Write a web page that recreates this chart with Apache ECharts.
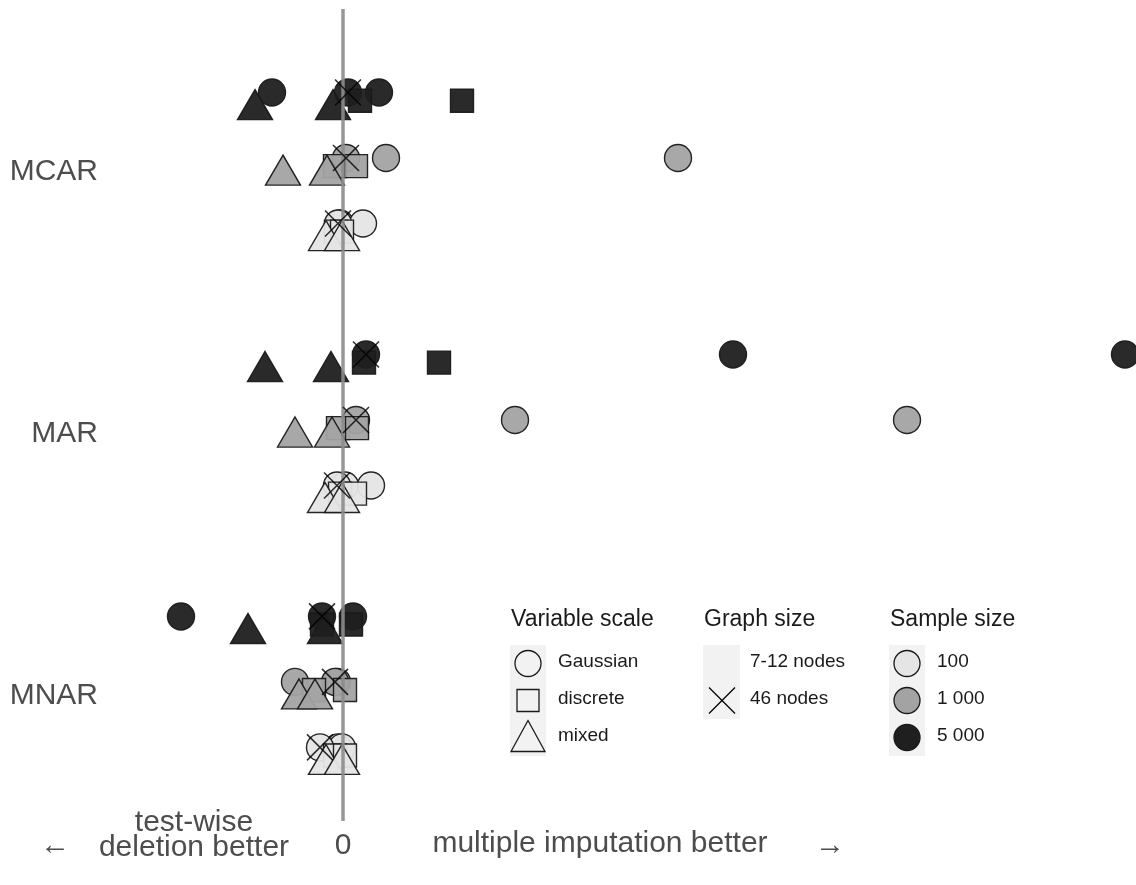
<!DOCTYPE html>
<html>
<head>
<meta charset="utf-8">
<script src="https://cdn.jsdelivr.net/npm/echarts@6/dist/echarts.min.js"></script>
<style>html,body{margin:0;padding:0;background:#fff}#c{width:1136px;height:885px}</style>
</head>
<body>
<div id="c"></div>
<script>
// ---- data (x = difference, 0 = no difference; rows: sample size 5 000, 1 000, 100) ----
const mechanisms = ['MCAR', 'MAR', 'MNAR'];
const sampleSizes = ['5 000', '1 000', '100'];
const xTicks = [0];

// Gaussian, 7-12 nodes (two graphs per row)
const mcarGaussian = [[-7.1, 3.6], [4.3, 33.5], [-0.3, 2.0]];
const marGaussian  = [[39.0, 78.2], [17.2, 56.4], [0.2, 2.8]];
const mnarGaussian = [[-16.2, 1.0], [-4.8, -0.6], [-0.5, -0.1]];
// Gaussian, 46 nodes
const mcarGaussian46 = [0.5, 0.3, -0.5];
const marGaussian46  = [2.3, 1.3, -0.6];
const mnarGaussian46 = [-2.1, -0.8, -2.3];
// discrete, 7-12 nodes
const mcarDiscrete = [[1.7, 11.9], [-0.8, 1.3], [-0.7, -0.1]];
const marDiscrete  = [[2.1, 9.6], [-0.5, 1.4], [-0.3, 1.2]];
const mnarDiscrete = [[-2.1, 0.8], [-2.9, 0.2], [-0.8, 0.2]];
// mixed, 7-12 nodes
const mcarMixed = [[-8.8, -1.0], [-6.0, -1.6], [-1.7, -0.1]];
const marMixed  = [[-7.8, -1.2], [-4.8, -1.1], [-1.8, -0.1]];
const mnarMixed = [[-9.5, -1.8], [-4.4, -2.8], [-1.7, -0.1]];

// ---- styling ----
const fills = ['#1f1f1f', '#a3a3a3', '#e5e5e5'];
const stroke = '#1a1a1a';
const rowOff = [-0.25, 0, 0.25];
const shapeOff = { circle: -0.031, square: 0, triangle: 0.015 };
const labelNudge = 0.02;
const textGrey = '#4d4d4d';
const FONT = '"Liberation Sans", Arial, sans-serif';
const CROSS = 'path://M0,0L10,10M10,0L0,10';

const gaussian = [mcarGaussian, marGaussian, mnarGaussian];
const gaussian46 = [mcarGaussian46, marGaussian46, mnarGaussian46];
const discrete = [mcarDiscrete, marDiscrete, mnarDiscrete];
const mixed = [mcarMixed, marMixed, mnarMixed];

function pts(src, shape) {
  const out = [];
  src.forEach((rows, g) => rows.forEach((vals, r) => vals.forEach(v => {
    out.push({ value: [v, g + rowOff[r] + shapeOff[shape]], itemStyle: { color: fills[r] } });
  })));
  return out;
}
function pts46(src) {
  const out = [];
  src.forEach((vals, g) => vals.forEach((v, r) => {
    out.push({ value: [v, g + rowOff[r] + shapeOff.circle], itemStyle: { color: fills[r] } });
  }));
  return out;
}
const circleData = pts(gaussian, 'circle').concat(pts46(gaussian46));
const crossData = pts46(gaussian46).map(d => ({ value: d.value }));
const squareData = pts(discrete, 'square');
const triangleData = pts(mixed, 'triangle');

const common = { type: 'scatter', clip: false, silent: true, itemStyle: { borderColor: stroke, borderWidth: 1.4, opacity: 0.95 } };

const chart = echarts.init(document.getElementById('c'), null, { renderer: 'canvas' });

// legend (graphic)
const LX = [510, 703, 889];
const rowsY = [663.5, 700.5, 737.5];
const lg = [];
const titles = ['Variable scale', 'Graph size', 'Sample size'];
titles.forEach((t, i) => lg.push({ type: 'text', left: LX[i] + 1, top: 608, style: { text: t, font: '23px ' + FONT, fill: '#1a1a1a' } }));
lg.push({ type: 'rect', shape: { x: LX[0], y: 645, width: 36, height: 111 }, style: { fill: '#f2f2f2' } });
lg.push({ type: 'rect', shape: { x: LX[1], y: 645, width: 37, height: 74 }, style: { fill: '#f2f2f2' } });
lg.push({ type: 'rect', shape: { x: LX[2], y: 645, width: 36, height: 111 }, style: { fill: '#f2f2f2' } });
// variable scale keys
lg.push({ type: 'circle', shape: { cx: 528, cy: rowsY[0], r: 13 }, style: { fill: 'none', stroke: '#1a1a1a', lineWidth: 1.3 } });
lg.push({ type: 'rect', shape: { x: 517, y: rowsY[1] - 11, width: 22, height: 22 }, style: { fill: 'none', stroke: '#1a1a1a', lineWidth: 1.3 } });
lg.push({ type: 'polygon', shape: { points: [[528, rowsY[2] - 17], [545, rowsY[2] + 14], [511, rowsY[2] + 14]] }, style: { fill: 'none', stroke: '#1a1a1a', lineWidth: 1.3 } });
// graph size keys
lg.push({ type: 'line', shape: { x1: 709, y1: rowsY[1] - 13, x2: 735, y2: rowsY[1] + 13 }, style: { stroke: '#000', lineWidth: 1.3 } });
lg.push({ type: 'line', shape: { x1: 735, y1: rowsY[1] - 13, x2: 709, y2: rowsY[1] + 13 }, style: { stroke: '#000', lineWidth: 1.3 } });
// sample size keys
fills.slice().reverse().forEach((f, i) => lg.push({ type: 'circle', shape: { cx: 907, cy: rowsY[i], r: 13 }, style: { fill: f, stroke: '#1a1a1a', lineWidth: 1.3 } }));
const labs = [['Gaussian', 'discrete', 'mixed'], ['7-12 nodes', '46 nodes'], sampleSizes.slice().reverse()];
const LTX = [558, 750, 937];
labs.forEach((col, i) => col.forEach((t, j) => lg.push({ type: 'text', left: LTX[i], top: rowsY[j] - 11, style: { text: t, font: '19px ' + FONT, fill: '#1a1a1a' } })));
// bottom annotations
lg.push({ type: 'text', left: 40, top: 831, style: { text: '\u2190', font: '30px ' + FONT, fill: textGrey } });
lg.push({ type: 'text', x: 194, y: 860, style: { text: 'test-wise\ndeletion better', font: '30px ' + FONT, fill: textGrey, align: 'center', verticalAlign: 'bottom', lineHeight: 25 } });
lg.push({ type: 'text', x: 600, y: 829, style: { text: 'multiple imputation better', font: '30px ' + FONT, fill: textGrey, align: 'center', verticalAlign: 'top' } });
lg.push({ type: 'text', left: 815, top: 831, style: { text: '\u2192', font: '30px ' + FONT, fill: textGrey } });

chart.setOption({
  animation: false,
  backgroundColor: '#fff',
  grid: { left: 110, right: 0, top: 9, bottom: 64, containLabel: false },
  xAxis: {
    type: 'value', min: -23.3, max: 79.3,
    axisLine: { show: false }, axisTick: { show: false }, splitLine: { show: false },
    axisLabel: { customValues: xTicks, margin: 10, fontSize: 30, color: textGrey, fontFamily: FONT, formatter: v => String(v) }
  },
  yAxis: {
    type: 'value', inverse: true, min: -0.6, max: 2.5,
    axisLine: { show: false }, axisTick: { show: false }, splitLine: { show: false },
    axisLabel: { customValues: [0, 1, 2].map(v => v + labelNudge), margin: 12, fontSize: 30, color: textGrey, fontFamily: FONT, formatter: v => mechanisms[Math.round(v)] }
  },
  series: [
    Object.assign({}, common, { name: 'Gaussian', symbol: 'circle', symbolSize: 27, data: circleData, z: 2 }),
    Object.assign({}, common, { name: 'discrete', symbol: 'rect', symbolSize: 23, data: squareData, z: 3 }),
    Object.assign({}, common, { name: 'mixed', symbol: 'triangle', symbolSize: [35, 30], data: triangleData, z: 4 }),
    { type: 'scatter', name: '46 nodes', clip: false, silent: true, symbol: CROSS, symbolSize: 26, data: crossData, z: 5,
      itemStyle: { color: 'rgba(0,0,0,0)', borderColor: '#000', borderWidth: 1.6 } },
    { type: 'scatter', name: 'zero', data: [], z: 10, zlevel: 1, silent: true,
      markLine: { silent: true, symbol: 'none', label: { show: false }, lineStyle: { color: '#8c8c8c', width: 3.5, type: 'solid', opacity: 0.9 }, data: [{ xAxis: 0 }] } }
  ],
  graphic: lg
});
</script>
</body>
</html>
